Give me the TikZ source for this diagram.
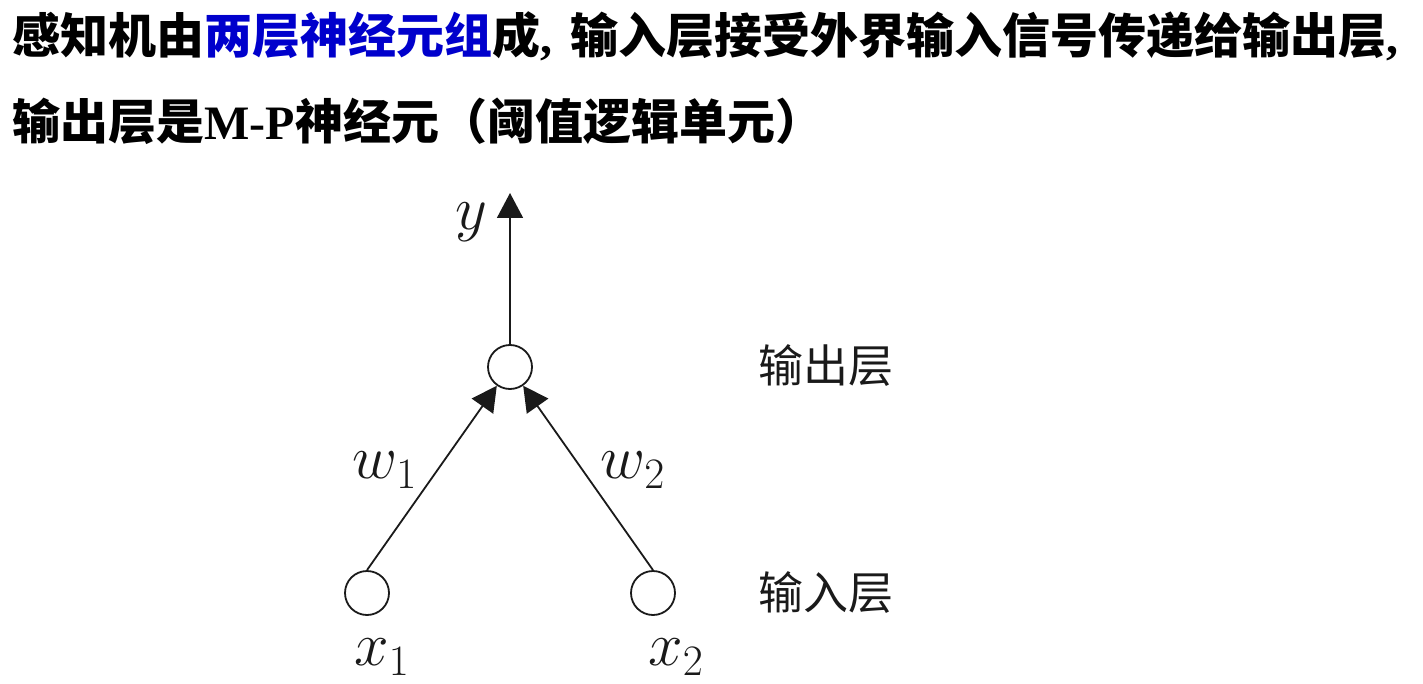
\RequirePackage{fix-cm}
\documentclass[tikz,border=0pt]{standalone}
\usepackage{fontspec}
\usepackage{tikz}
\setmainfont{Liberation Serif}
\newfontfamily\cjk{Noto Sans CJK SC}
\usetikzlibrary{
  arrows.meta,
  positioning
}
\definecolor{pcBlue}{HTML}{0000CC}
\definecolor{pcInk}{HTML}{1A1A1A}
\tikzset{
  neuron/.style={
    draw=pcInk, circle, line width=0.9pt, minimum size=22pt, inner sep=0pt, fill=white
  },
  synapse/.style={-{Triangle[length=12.5pt, width=13pt]}, line width=0.9pt, draw=pcInk},
  mathlabel/.style={font=\fontsize{31}{36}\selectfont, inner sep=0pt, text=pcInk},
  layerlabel/.style={font=\cjk\fontsize{22.5}{26}\selectfont, inner sep=0pt, text=pcInk},
  headline/.style={font=\fontsize{24}{28}\selectfont\bfseries, inner sep=0pt, anchor=base west}
}

\begin{document}
\begin{tikzpicture}[x=0.5pt, y=-0.5pt]
  \useasboundingbox (0,0) rectangle (1423,684);
  \node[headline] (line1) at (12,54) {{\cjk 感知机由}{\cjk\color{pcBlue}两层神经元组}{\cjk 成},\hspace{9pt}{\cjk 输入层接受外界输入信号传递给输出层},};
  \node[headline] (line2) at (12,140) {{\cjk 输出层是}M-P{\cjk 神经元（阈值逻辑单元）}};

  \node[neuron] (out) at (510,367) {};
  \node[neuron] (in1) at (367,593) {};
  \node[neuron] (in2) at (653,593) {};
  \coordinate (ytip) at (510,193);
  \draw[synapse] (out) -- (ytip);
  \draw[synapse] (in1.north) -- (out);
  \draw[synapse] (in2.north) -- (out);

  \node[mathlabel] (ylab) at (471,222) {$y$};
  \node[mathlabel] (w1) at (385,470) {$w_1$};
  \node[mathlabel] (w2) at (633,470) {$w_2$};
  \node[mathlabel] (x1) at (382,657) {$x_1$};
  \node[mathlabel] (x2) at (676,657) {$x_2$};

  \node[layerlabel] (outname) at (826,366) {输出层};
  \node[layerlabel] (inname) at (826,593) {输入层};
\end{tikzpicture}
\end{document}
